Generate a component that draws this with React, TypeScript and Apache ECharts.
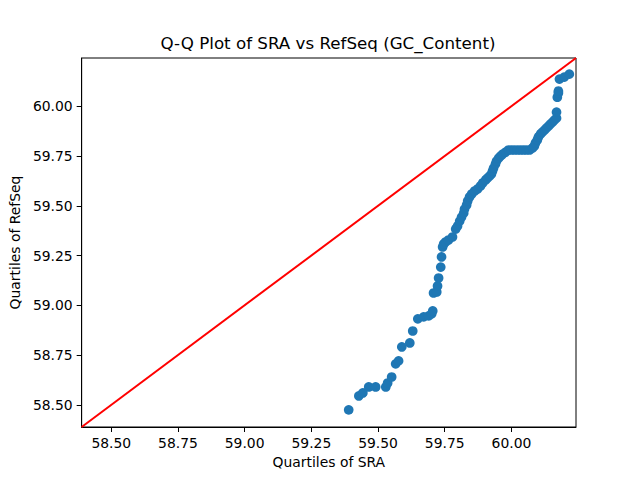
import React, { useEffect, useRef } from "react";
import * as echarts from "echarts";

// Sorted quantiles of GC content (%) for the two assemblies
const sraQuantiles: number[] = [
  59.39, 59.428, 59.443, 59.465, 59.491, 59.529, 59.536, 59.551, 59.566, 59.577,
  59.589, 59.619, 59.63, 59.649, 59.671, 59.69, 59.701, 59.705, 59.708, 59.72,
  59.723, 59.727, 59.735, 59.738, 59.742, 59.746, 59.753, 59.764, 59.779, 59.791,
  59.798, 59.806, 59.813, 59.821, 59.824, 59.832, 59.836, 59.843, 59.851, 59.862,
  59.873, 59.884, 59.892, 59.903, 59.91, 59.918, 59.925, 59.929, 59.933, 59.94,
  59.944, 59.952, 59.959, 59.967, 59.978, 59.989, 60.0, 60.011, 60.023, 60.034,
  60.045, 60.056, 60.068, 60.079, 60.086, 60.09, 60.097, 60.101, 60.109, 60.116,
  60.124, 60.131, 60.139, 60.146, 60.154, 60.161, 60.169, 60.169, 60.172, 60.176,
  60.176, 60.18, 60.198, 60.217,
];

const refseqQuantiles: number[] = [
  58.475, 58.545, 58.56, 58.59, 58.59, 58.59, 58.61, 58.64, 58.706, 58.721,
  58.791, 58.811, 58.871, 58.932, 58.942, 58.947, 58.957, 58.972, 59.062, 59.067,
  59.097, 59.137, 59.192, 59.243, 59.293, 59.308, 59.318, 59.328, 59.343, 59.383,
  59.398, 59.423, 59.443, 59.463, 59.483, 59.504, 59.524, 59.544, 59.559, 59.574,
  59.584, 59.599, 59.614, 59.629, 59.639, 59.649, 59.659, 59.674, 59.689, 59.709,
  59.724, 59.739, 59.749, 59.759, 59.769, 59.78, 59.78, 59.78, 59.78, 59.78,
  59.78, 59.78, 59.78, 59.79, 59.8, 59.815, 59.83, 59.845, 59.86, 59.87,
  59.88, 59.89, 59.9, 59.91, 59.92, 59.93, 59.94, 59.97, 60.045, 60.066,
  60.076, 60.136, 60.146, 60.161,
];

// Shared axis limits and tick positions
const axisMin = 58.389;
const axisMax = 60.242;
const tickValues: number[] = [58.5, 58.75, 59.0, 59.25, 59.5, 59.75, 60.0];

const FONT = "DejaVu Sans";

export default function App() {
  const ref = useRef<HTMLDivElement>(null);

  useEffect(() => {
    if (!ref.current) return;
    const chart = echarts.init(ref.current, null, { renderer: "svg" });
    const points = sraQuantiles.map((x, i) => [x, refseqQuantiles[i]]);

    const axisCommon = (name: string, gap: number) => ({
      type: "value" as const,
      min: axisMin,
      max: axisMax,
      name,
      nameLocation: "middle" as const,
      nameGap: gap,
      nameTextStyle: { fontFamily: FONT, fontSize: 13.9, color: "#000" },
      splitLine: { show: false },
      axisLine: { show: true, lineStyle: { color: "#000", width: 1 } },
      axisTick: {
        show: true,
        inside: false,
        length: 5,
        lineStyle: { color: "#000", width: 1 },
        customValues: tickValues,
      },
      axisLabel: {
        show: true,
        fontFamily: FONT,
        fontSize: 13.9,
        color: "#000",
        margin: 9,
        customValues: tickValues,
        formatter: (v: number) => v.toFixed(2),
      },
    });

    chart.setOption({
      animation: false,
      backgroundColor: "#fff",
      grid: {
        left: 80,
        right: 64,
        top: 58,
        bottom: 53,
        show: true,
        borderColor: "#000",
        borderWidth: 1,
        backgroundColor: "transparent",
      },
      graphic: [
        {
          type: "text",
          x: 328,
          y: 43,
          style: {
            text: "Q-Q Plot of SRA vs RefSeq (GC_Content)",
            fontFamily: FONT,
            fontSize: 16.7,
            fill: "#000",
            align: "center",
            verticalAlign: "middle",
          },
        },
      ],
      xAxis: axisCommon("Quartiles of SRA", 27),
      yAxis: axisCommon("Quartiles of RefSeq", 56),
      series: [
        {
          type: "scatter",
          data: points,
          symbol: "circle",
          symbolSize: 9.7,
          itemStyle: { color: "#1f77b4", opacity: 1 },
          clip: true,
          z: 2,
        },
        {
          type: "line",
          data: [
            [axisMin, axisMin],
            [axisMax, axisMax],
          ],
          symbol: "none",
          lineStyle: { color: "#ff0000", width: 2 },
          clip: true,
          z: 3,
        },
      ],
    });

    return () => chart.dispose();
  }, []);

  return (
    <div
      ref={ref}
      style={{ position: "fixed", left: 0, top: 0, width: 640, height: 480 }}
    />
  );
}
